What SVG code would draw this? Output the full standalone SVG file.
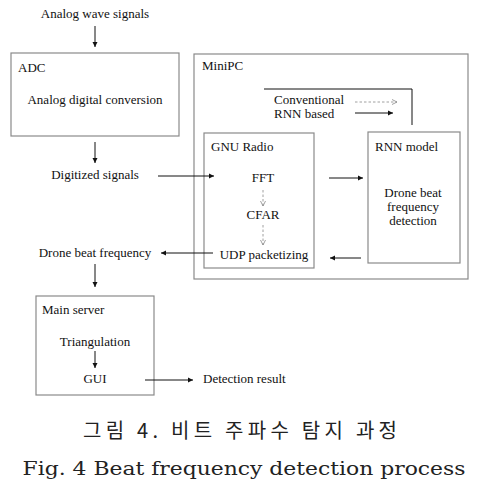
<svg xmlns="http://www.w3.org/2000/svg" width="489" height="488" viewBox="0 0 489 488">
<style>
.box{fill:#fff;stroke:#8a8a8a;stroke-width:1.2}
.t{font-family:"Liberation Serif","Times New Roman",Times,serif;font-size:13px;fill:#111}
.c{text-anchor:middle}
.ln{stroke:#111;stroke-width:1;fill:none}
.dl{stroke:#888;stroke-width:0.8;fill:none;stroke-dasharray:2.5,2}
.cap{font-family:"DejaVu Serif",serif;font-size:18px;fill:#222;text-anchor:middle}
.kcap{font-family:"Noto Sans CJK KR",sans-serif;font-size:20px;fill:#222;text-anchor:middle}
</style>
<defs>
<marker id="ah" markerWidth="6" markerHeight="6" refX="5" refY="3" orient="auto" markerUnits="userSpaceOnUse">
<path d="M0,0.5 L5,3 L0,5.5 Z" fill="#111"/>
</marker>
<marker id="oh" markerWidth="6" markerHeight="6" refX="5" refY="3" orient="auto" markerUnits="userSpaceOnUse">
<path d="M0,0.5 L5,3 L0,5.5" fill="none" stroke="#888" stroke-width="0.8"/>
</marker>
</defs>
<rect width="489" height="488" fill="#fff"/>
<g id="input"><text class="t c" x="95" y="18">Analog wave signals</text></g>
<g id="adc">
<rect class="box" x="11" y="53" width="168" height="83"/>
<text class="t" x="18" y="72">ADC</text>
<text class="t c" x="95" y="104">Analog digital conversion</text>
</g>
<g id="digitized"><text class="t c" x="95" y="179">Digitized signals</text></g>
<g id="minipc">
<rect class="box" x="194" y="54" width="274" height="225"/>
<text class="t" x="202" y="70">MiniPC</text>
</g>
<g id="legend">
<polyline class="ln" points="264,89 412,89 412,125" stroke="#555"/>
<text class="t" x="274" y="104">Conventional</text>
<text class="t" x="274" y="118">RNN based</text>
<line class="dl" x1="355" y1="102" x2="397" y2="102" marker-end="url(#oh)"/>
<line class="ln" x1="355" y1="113" x2="393" y2="113" marker-end="url(#ah)"/>
</g>
<g id="gnuradio">
<rect class="box" x="204" y="133" width="110" height="135"/>
<text class="t" x="211" y="151">GNU Radio</text>
<text class="t c" x="263" y="182">FFT</text>
<text class="t c" x="263" y="219">CFAR</text>
<text class="t c" x="264" y="259">UDP packetizing</text>
</g>
<g id="rnnmodel">
<rect class="box" x="368" y="132" width="92" height="131"/>
<text class="t" x="375" y="151">RNN model</text>
<text class="t c" x="413" y="197">Drone beat</text>
<text class="t c" x="413" y="211">frequency</text>
<text class="t c" x="413" y="225">detection</text>
</g>
<g id="drone"><text class="t c" x="95" y="257">Drone beat frequency</text></g>
<g id="mainserver">
<rect class="box" x="36" y="296" width="118" height="99"/>
<text class="t" x="42" y="314">Main server</text>
<text class="t c" x="95" y="346">Triangulation</text>
<text class="t c" x="95" y="383">GUI</text>
</g>
<g id="result"><text class="t" x="203" y="383">Detection result</text></g>
<g id="caption">
<text class="kcap" x="240" y="438" textLength="314" lengthAdjust="spacing">그림 4. 비트 주파수 탐지 과정</text>
<text class="cap" x="244" y="475" textLength="443" lengthAdjust="spacingAndGlyphs">Fig. 4 Beat frequency detection process</text>
</g>
<g id="connectors">
<line class="ln" x1="95" y1="26" x2="95" y2="47" marker-end="url(#ah)"/>
<line class="ln" x1="95" y1="142" x2="95" y2="163" marker-end="url(#ah)"/>
<line class="ln" x1="158" y1="176" x2="214" y2="176" marker-end="url(#ah)"/>
<line class="ln" x1="329" y1="178" x2="363" y2="178" marker-end="url(#ah)"/>
<line class="ln" x1="361" y1="258" x2="330" y2="258" marker-end="url(#ah)"/>
<line class="ln" x1="213" y1="253" x2="161" y2="253" marker-end="url(#ah)"/>
<line class="ln" x1="95" y1="264" x2="95" y2="287" marker-end="url(#ah)"/>
<line class="ln" x1="95" y1="351" x2="95" y2="368" marker-end="url(#ah)"/>
<line class="ln" x1="145" y1="380" x2="193" y2="380" marker-end="url(#ah)"/>
<line class="dl" x1="263" y1="190" x2="263" y2="206" marker-end="url(#oh)"/>
<line class="dl" x1="263" y1="225" x2="263" y2="245" marker-end="url(#oh)"/>
</g>
</svg>
